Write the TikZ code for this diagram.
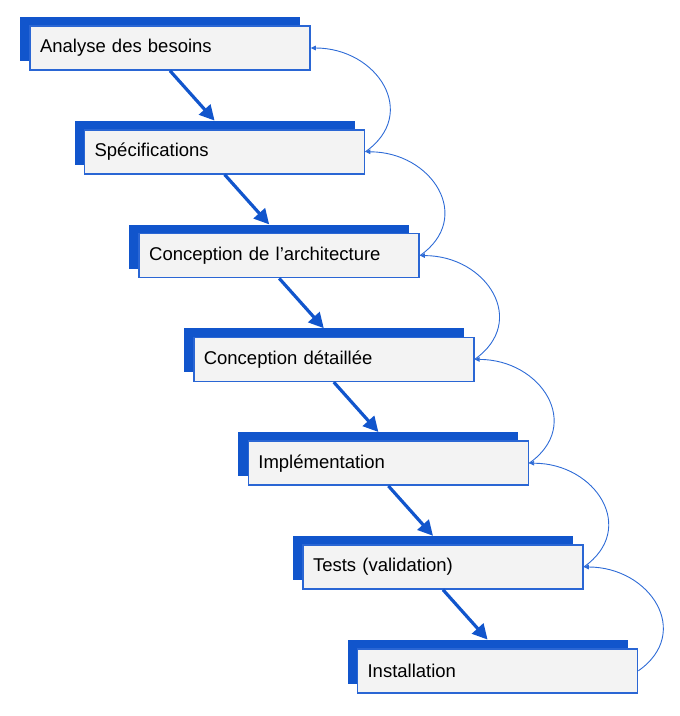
\documentclass[tikz,border=0pt]{standalone}
\usepackage{fontspec}
\setmainfont{Liberation Sans}
\usetikzlibrary{arrows.meta}
\definecolor{shadowblue}{HTML}{1155CC}
\definecolor{borderblue}{HTML}{2A66D4}
\definecolor{thinblue}{HTML}{2E6BD6}
\definecolor{boxfill}{HTML}{F3F3F3}
\tikzset{
  shadowbox/.style={fill=shadowblue, draw=none, minimum width=280pt, minimum height=44pt, inner sep=0pt},
  stagebox/.style={fill=boxfill, draw=borderblue, line width=1.5pt, minimum width=280pt, minimum height=44pt,
    text width=260pt, inner xsep=10pt, inner ysep=0pt, align=left, font=\fontsize{18.5}{22}\selectfont},
  flowarrow/.style={draw=shadowblue, line width=3.2pt, -{Triangle[length=15pt,width=15pt]}},
  backarrow/.style={draw=thinblue, line width=0.9pt, -{Triangle[length=5pt,width=4.5pt]}, out=35, in=0, looseness=1.45},
}
\begin{document}
\begin{tikzpicture}[x=1pt,y=-1pt]
\useasboundingbox (0,0) rectangle (680,716);
\foreach \i/\t in {0/Analyse des besoins,1/Spécifications,2/Conception de l’architecture,3/Conception détaillée,4/Implémentation,5/Tests (validation),6/Installation}{
  \node[shadowbox] (s\i) at ({160+54.6*\i},{39+103.8*\i}) {};
  \node[stagebox] (b\i) at ({170+54.6*\i},{48+103.8*\i}) {\t};
}
\foreach \i [evaluate=\i as \j using int(\i+1)] in {0,...,5}{
  \draw[flowarrow] (b\i.south) -- (s\j.north);
  \draw[backarrow] (b\j.east) to (b\i.east);
}
\end{tikzpicture}
\end{document}
